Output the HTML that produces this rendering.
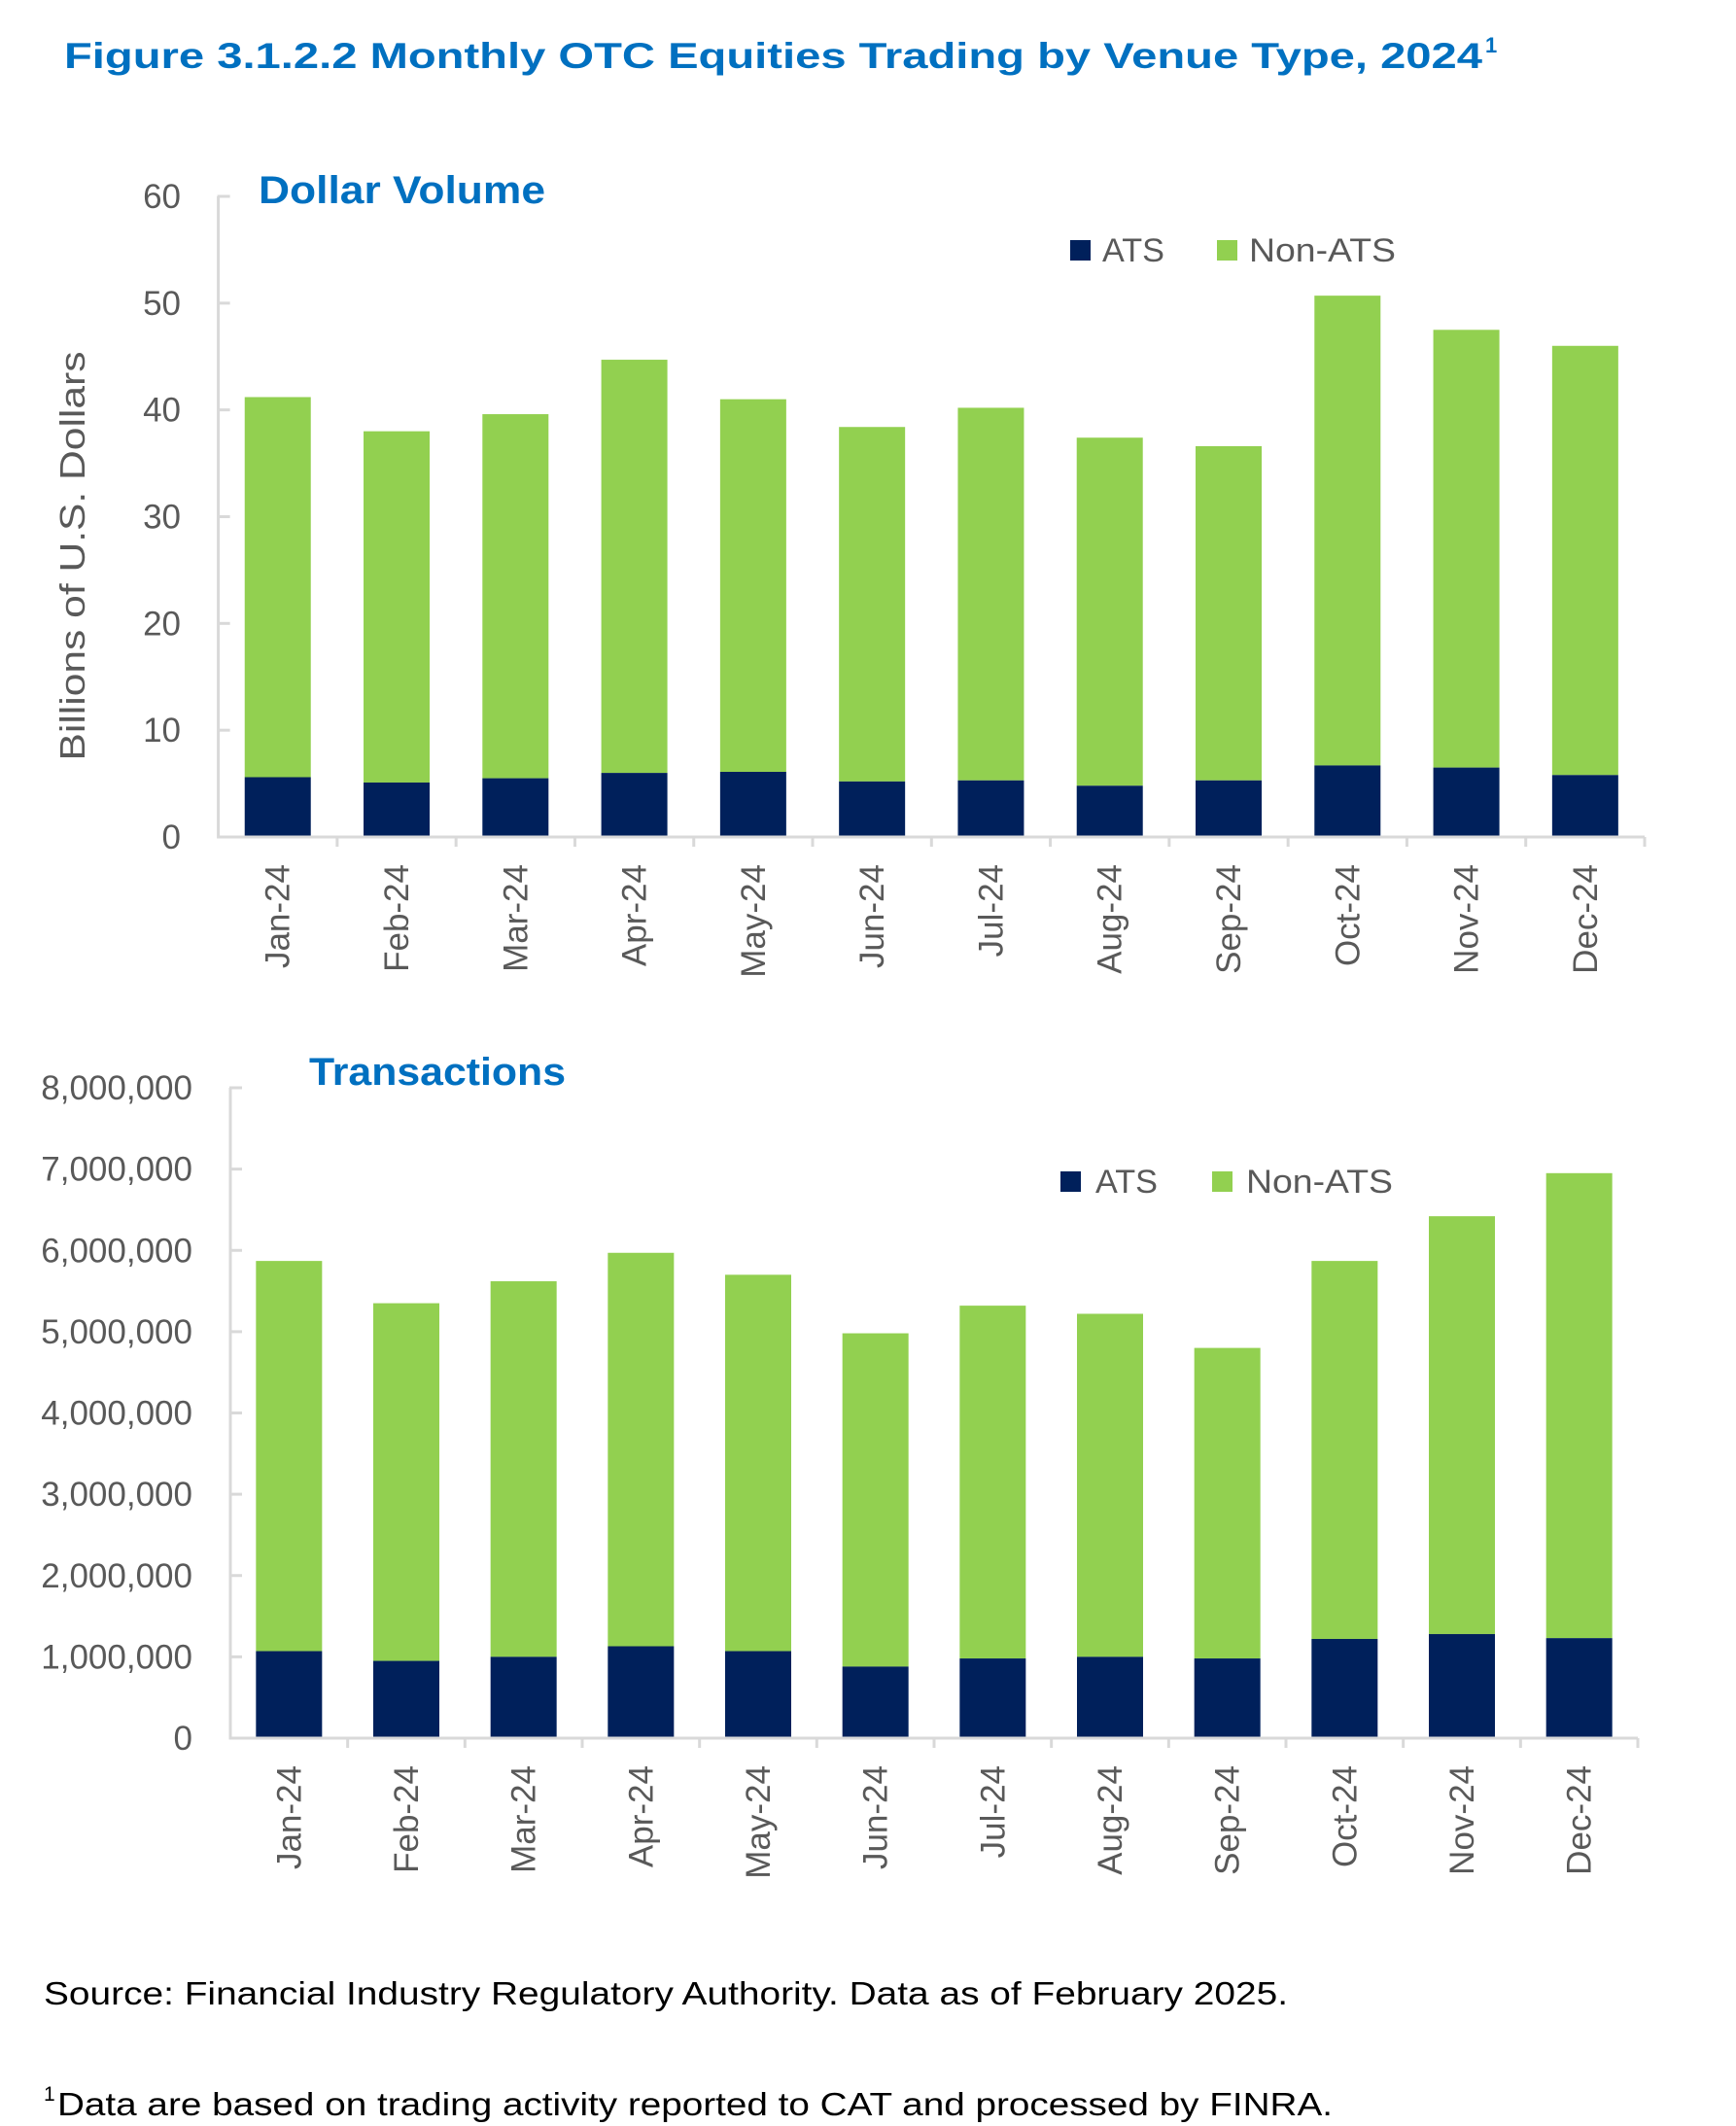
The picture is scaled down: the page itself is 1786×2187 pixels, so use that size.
<!DOCTYPE html>
<html><head><meta charset="utf-8"><style>
html,body{margin:0;padding:0;background:#fff;}
svg{display:block;font-family:"Liberation Sans",sans-serif;}
</style></head><body>
<svg width="1786" height="2187" viewBox="0 0 1786 2187" xmlns="http://www.w3.org/2000/svg">
<text x="66" y="70" font-size="37" font-weight="bold" fill="#0070C0" textLength="1459" lengthAdjust="spacingAndGlyphs">Figure 3.1.2.2 Monthly OTC Equities Trading by Venue Type, 2024</text>
<text x="1528" y="54" font-size="22" font-weight="bold" fill="#0070C0">1</text>

<g id="c1"></g>
<text x="266" y="209" font-size="40" font-weight="bold" fill="#0070C0" textLength="295" lengthAdjust="spacingAndGlyphs">Dollar Volume</text>
<rect x="1101" y="247" width="21" height="21" fill="#00205B"/>
<text x="1134" y="269" font-size="34" fill="#595959" textLength="64" lengthAdjust="spacingAndGlyphs">ATS</text>
<rect x="1252" y="247" width="21" height="21" fill="#92D050"/>
<text x="1285" y="269" font-size="34" fill="#595959" textLength="151" lengthAdjust="spacingAndGlyphs">Non-ATS</text>
<text transform="translate(87,572) rotate(-90)" text-anchor="middle" font-size="36" fill="#595959" textLength="421" lengthAdjust="spacingAndGlyphs">Billions of U.S. Dollars</text>

<g id="c2"></g>
<text x="318" y="1116" font-size="40" font-weight="bold" fill="#0070C0" textLength="264" lengthAdjust="spacingAndGlyphs">Transactions</text>
<rect x="1091" y="1205" width="21" height="21" fill="#00205B"/>
<text x="1127" y="1227" font-size="34" fill="#595959" textLength="64" lengthAdjust="spacingAndGlyphs">ATS</text>
<rect x="1247" y="1205" width="21" height="21" fill="#92D050"/>
<text x="1282" y="1227" font-size="34" fill="#595959" textLength="151" lengthAdjust="spacingAndGlyphs">Non-ATS</text>

<text x="45" y="2062" font-size="33" fill="#000" textLength="1280" lengthAdjust="spacingAndGlyphs">Source: Financial Industry Regulatory Authority. Data as of February 2025.</text>
<text x="45" y="2161" font-size="21" fill="#000">1</text>
<text x="59" y="2176" font-size="33" fill="#000" textLength="1312" lengthAdjust="spacingAndGlyphs">Data are based on trading activity reported to CAT and processed by FINRA.</text>
</svg>
<script>
(function(){
var NS="http://www.w3.org/2000/svg";
var months=["Jan-24","Feb-24","Mar-24","Apr-24","May-24","Jun-24","Jul-24","Aug-24","Sep-24","Oct-24","Nov-24","Dec-24"];
function el(p,n,a,t){var e=document.createElementNS(NS,n);for(var k in a)e.setAttribute(k,a[k]);if(t!==undefined)e.textContent=t;p.appendChild(e);return e;}
function chart(id,ax,top,zero,right,max,step,labels,tot,ats,lblTop,lx){
 var g=document.getElementById(id);var h=zero-top;var sp=(right-ax)/12;
 for(var i=0;i<12;i++){
  var cx=ax+sp*(i+0.5),w=68;
  var yt=zero-tot[i]/max*h, ya=zero-ats[i]/max*h;
  el(g,"rect",{x:cx-w/2,y:yt,width:w,height:ya-yt,fill:"#92D050"});
  el(g,"rect",{x:cx-w/2,y:ya,width:w,height:zero-ya,fill:"#00205B"});
  el(g,"text",{transform:"translate("+(cx+12)+","+lblTop+") rotate(-90)","text-anchor":"end","font-size":"35",fill:"#595959"},months[i]);
  el(g,"line",{x1:ax+sp*(i+1),y1:zero,x2:ax+sp*(i+1),y2:zero+10,stroke:"#d9d9d9","stroke-width":"3"});
 }
 el(g,"line",{x1:ax,y1:top,x2:ax,y2:zero+1.5,stroke:"#d9d9d9","stroke-width":"3"});
 el(g,"line",{x1:ax,y1:zero,x2:right,y2:zero,stroke:"#d9d9d9","stroke-width":"3"});
 for(var j=0;j<labels.length;j++){
  var y=zero-j*step/max*h;
  el(g,"line",{x1:ax-1,y1:y,x2:ax+12,y2:y,stroke:"#d9d9d9","stroke-width":"3"});
  el(g,"text",{x:lx,y:y+12,"text-anchor":"end","font-size":"35",fill:"#595959"},labels[j]);
 }
}
chart("c1",224.6,202,861,1692,60,10,["0","10","20","30","40","50","60"],
 [41.2,38.0,39.6,44.7,41.0,38.4,40.2,37.4,36.6,50.7,47.5,46.0],
 [5.6,5.1,5.5,6.0,6.1,5.2,5.3,4.8,5.3,6.7,6.5,5.8],889,186);
chart("c2",237,1119,1788,1685,8,1,["0","1,000,000","2,000,000","3,000,000","4,000,000","5,000,000","6,000,000","7,000,000","8,000,000"],
 [5.87,5.35,5.62,5.97,5.70,4.98,5.32,5.22,4.80,5.87,6.42,6.95],
 [1.07,0.95,1.0,1.13,1.07,0.88,0.98,1.0,0.98,1.22,1.28,1.23],1816,198);
})();
</script>
</body></html>
